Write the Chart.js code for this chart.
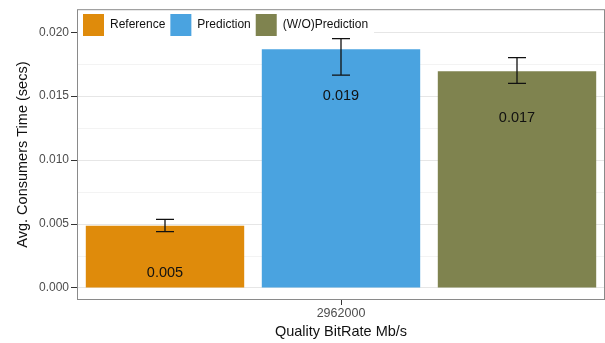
<!DOCTYPE html>
<html>
<head>
<meta charset="utf-8">
<script src="https://cdn.jsdelivr.net/npm/chart.js@4.4.1/dist/chart.umd.min.js"></script>
<style>
  html, body { margin: 0; padding: 0; background: #fff; }
  #wrap { width: 605px; height: 343px; }
</style>
</head>
<body>
<div id="wrap"><canvas id="myChart"></canvas></div>
<script>
// datos
const categories = ['2962000'];
const seriesNames = ['Reference', 'Prediction', '(W/O)Prediction'];
const seriesValues = [0.00487, 0.01867, 0.01695];
const errorLow = [0.0044, 0.01664, 0.0160];
const errorHigh = [0.00537, 0.0195, 0.01802];
const tickValues = [0, 0.0025, 0.005, 0.0075, 0.01, 0.0125, 0.015, 0.0175, 0.02];
const seriesColors = ['#DF8B0B', '#4AA3E0', '#7F834F'];

const FONT = '"Liberation Sans", Arial, Helvetica, sans-serif';
const isMajor = v => Math.abs(Math.round(v / 0.005) * 0.005 - v) < 1e-9;

// barras de error, etiquetas de valor, leyenda y borde del panel
const extrasPlugin = {
    id: 'extras',
    afterDatasetsDraw(chart) {
        const ctx = chart.ctx;
        const y = chart.scales.y;
        const area = chart.chartArea;
        ctx.save();

        chart.data.datasets.forEach((ds, i) => {
            const bar = chart.getDatasetMeta(i).data[0];
            const cx = bar.x;
            const yLow = y.getPixelForValue(errorLow[i]);
            const yHigh = y.getPixelForValue(errorHigh[i]);
            ctx.strokeStyle = '#111';
            ctx.lineWidth = 1.3;
            ctx.beginPath();
            ctx.moveTo(cx, yLow); ctx.lineTo(cx, yHigh);
            ctx.moveTo(cx - 9, yLow); ctx.lineTo(cx + 9, yLow);
            ctx.moveTo(cx - 9, yHigh); ctx.lineTo(cx + 9, yHigh);
            ctx.stroke();

            ctx.fillStyle = '#111';
            ctx.font = '14.5px ' + FONT;
            ctx.textAlign = 'center';
            ctx.textBaseline = 'middle';
            ctx.fillText(ds.data[0].toFixed(3), cx, bar.y + 47);
        });

        // leyenda dentro del panel
        ctx.font = '12px ' + FONT;
        let x = area.left + 6;
        const items = chart.data.datasets.map(ds => ({ label: ds.label, color: ds.backgroundColor }));
        let totalEnd = x;
        items.forEach(it => {
            totalEnd += 21 + 6 + ctx.measureText(it.label).width + 5;
        });
        ctx.fillStyle = '#fff';
        ctx.fillRect(area.left + 1, area.top + 1, totalEnd - area.left, 23);
        items.forEach(it => {
            ctx.fillStyle = it.color;
            ctx.fillRect(x, 14, 21, 22);
            ctx.fillStyle = '#111';
            ctx.textAlign = 'left';
            ctx.textBaseline = 'middle';
            ctx.fillText(it.label, x + 27, 25);
            x += 27 + ctx.measureText(it.label).width + 5;
        });

        ctx.strokeStyle = '#8a8a8a';
        ctx.lineWidth = 1;
        ctx.strokeRect(area.left + 0.5, area.top + 0.5, area.right - area.left - 1, area.bottom - area.top - 1);
        ctx.restore();
    }
};

const ctx = document.getElementById('myChart').getContext('2d');
new Chart(ctx, {
    type: 'bar',
    data: {
        labels: categories,
        datasets: seriesNames.map((name, i) => ({
            label: name,
            data: [seriesValues[i]],
            backgroundColor: seriesColors[i],
            borderWidth: 0,
            categoryPercentage: 1.0,
            barPercentage: 0.9
        }))
    },
    options: {
        responsive: true,
        maintainAspectRatio: false,
        animation: false,
        layout: { padding: { top: 9, right: 0, left: 0, bottom: 0 } },
        plugins: {
            legend: { display: false },
            tooltip: { enabled: false }
        },
        scales: {
            x: {
                grid: { display: true, drawOnChartArea: false, offset: false, tickLength: 5, color: '#333' },
                border: { display: false },
                ticks: { color: '#4d4d4d', font: { size: 12.5, family: FONT }, padding: 1 },
                title: { display: true, text: 'Quality BitRate Mb/s', color: '#111', font: { size: 14.5, family: FONT }, padding: { top: 0, bottom: 2 } },
                afterFit(scale) { scale.height = 43; }
            },
            y: {
                min: -0.00094,
                max: 0.0218,
                afterBuildTicks(scale) {
                    scale.ticks = tickValues.map(v => ({ value: v }));
                },
                grid: {
                    color: c => isMajor(c.tick.value) ? '#e6e6e6' : '#f3f3f3',
                    tickColor: c => isMajor(c.tick.value) ? '#333' : 'rgba(0,0,0,0)',
                    tickLength: 6
                },
                border: { display: false },
                ticks: {
                    color: '#4d4d4d',
                    font: { size: 12, family: FONT },
                    padding: 2,
                    callback: v => isMajor(v) ? v.toFixed(3) : ''
                },
                title: { display: true, text: 'Avg. Consumers Time (secs)', color: '#111', font: { size: 14.5, family: FONT }, padding: { top: 14, bottom: 0 } },
                afterFit(scale) { scale.width = 77; }
            }
        }
    },
    plugins: [extrasPlugin]
});
</script>
</body>
</html>
